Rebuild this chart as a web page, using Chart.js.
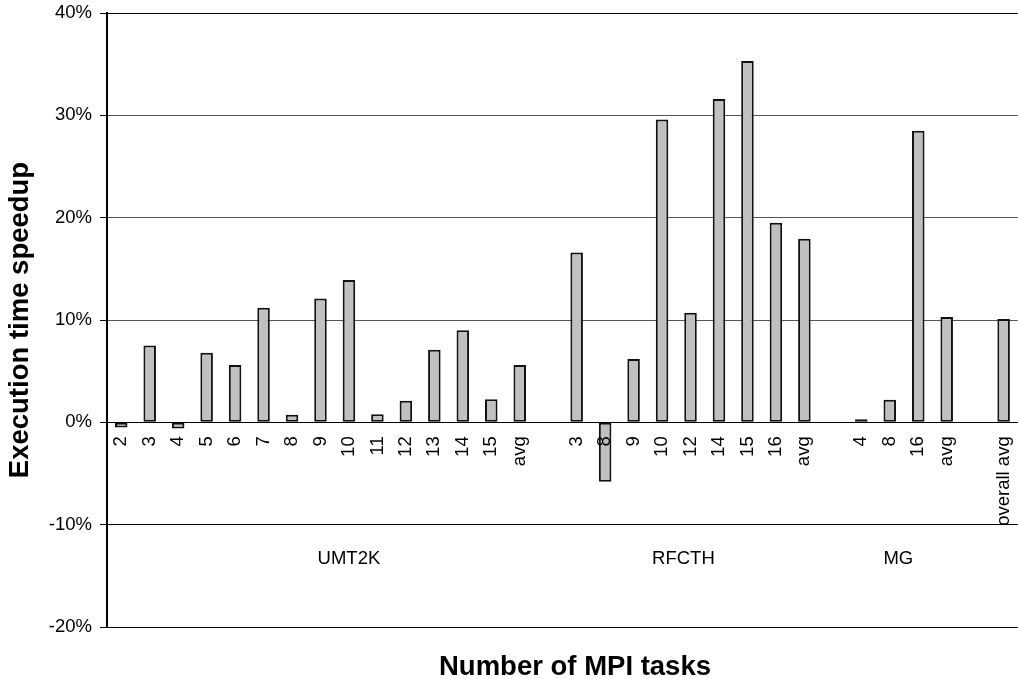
<!DOCTYPE html>
<html lang="en">
<head>
    <meta charset="UTF-8">
    <title>Execution time speedup</title>
    <style>
        html, body {
            margin: 0;
            padding: 0;
            overflow: hidden;
            background: #fff;
        }
        .chart-container {
            width: 1040px;
            height: 679px;
        }
    </style>
    <script src="https://cdn.jsdelivr.net/npm/chart.js"></script>
</head>
<body>
    <div class="chart-container">
        <canvas id="speedup-chart"></canvas>
    </div>

    <script>
        // Category labels (blank entries are the gaps between benchmark groups)
        const categories = [
            '2', '3', '4', '5', '6', '7', '8', '9', '10', '11', '12', '13', '14', '15', 'avg', '',
            '3', '8', '9', '10', '12', '14', '15', '16', 'avg', '',
            '4', '8', '16', 'avg', '',
            'overall avg'
        ];

        // Execution time speedup in percent
        const speedup = [
            -0.5, 7.5, -0.6, 6.8, 5.6, 11.2, 0.75, 12.1, 13.9, 0.8, 2.1, 7.1, 9.0, 2.25, 5.6, null,
            16.6, -5.8, 6.2, 29.6, 10.7, 31.6, 35.3, 19.5, 17.95, null,
            0.3, 2.2, 28.5, 10.3, null,
            10.1
        ];

        const groupLabels = ['UMT2K', 'RFCTH', 'MG'];
        const yTickValues = [-20, -10, 0, 10, 20, 30, 40];

        const FONT = '"Liberation Sans", Arial, Helvetica, sans-serif';

        // draws the benchmark group names and the x axis title
        const extraText = {
            id: 'extraText',
            afterDraw(chart, args, opts) {
                const ctx = chart.ctx;
                const x = chart.scales.x;
                ctx.save();
                ctx.fillStyle = '#000';
                ctx.textAlign = 'center';
                ctx.textBaseline = 'alphabetic';
                ctx.font = `18.5px ${FONT}`;
                groupLabels.forEach((g, i) => {
                    ctx.fillText(g, x.getPixelForValue(opts.groupAt[i]), opts.groupY);
                });
                ctx.font = `bold 27.5px ${FONT}`;
                ctx.fillText('Number of MPI tasks', opts.titleX, opts.titleY);
                ctx.restore();
            }
        };

        document.addEventListener('DOMContentLoaded', () => {
            const canvas = document.getElementById('speedup-chart');

            new Chart(canvas, {
                type: 'bar',
                data: {
                    labels: categories,
                    datasets: [{
                        data: speedup,
                        backgroundColor: '#c0c0c0',
                        borderColor: '#111',
                        borderWidth: 2,
                        borderSkipped: false,
                        barPercentage: 0.44,
                        categoryPercentage: 1.0
                    }]
                },
                options: {
                    responsive: true,
                    maintainAspectRatio: false,
                    animation: false,
                    layout: {
                        padding: { top: 13, right: 11, bottom: 52, left: 0 }
                    },
                    plugins: {
                        legend: { display: false },
                        tooltip: { enabled: false },
                        extraText: {
                            groupAt: [8, 19.75, 27.3],
                            groupY: 564,
                            titleX: 575,
                            titleY: 675
                        }
                    },
                    scales: {
                        x: {
                            type: 'category',
                            position: { y: 0 },
                            offset: true,
                            grid: { display: false, drawTicks: false },
                            border: { display: true, color: '#000', width: 1 },
                            ticks: {
                                z: 1,
                                autoSkip: false,
                                maxRotation: 90,
                                minRotation: 90,
                                padding: 14,
                                color: '#000',
                                font: { family: FONT, size: 18.5 }
                            }
                        },
                        y: {
                            min: -20,
                            max: 40,
                            afterBuildTicks: (scale) => {
                                scale.ticks = yTickValues.map(v => ({ value: v }));
                            },
                            afterFit: (scale) => {
                                scale.width = 107;
                            },
                            ticks: {
                                padding: 8,
                                color: '#000',
                                // small line height so the top label does not push the plot down
                                font: { family: FONT, size: 18.5, lineHeight: 0.5 },
                                callback: (v) => v + '%'
                            },
                            grid: {
                                color: (c) => [10, 20, 30].includes(c.tick && c.tick.value) ? '#555' : '#000',
                                lineWidth: 1,
                                tickLength: 7,
                                tickColor: '#000'
                            },
                            border: { color: '#000', width: 2 },
                            title: {
                                display: true,
                                text: 'Execution time speedup',
                                color: '#000',
                                font: { family: FONT, size: 27.5, weight: 'bold' },
                                padding: { top: 4, bottom: 0 }
                            }
                        }
                    }
                },
                plugins: [extraText]
            });
        });
    </script>
</body>
</html>
